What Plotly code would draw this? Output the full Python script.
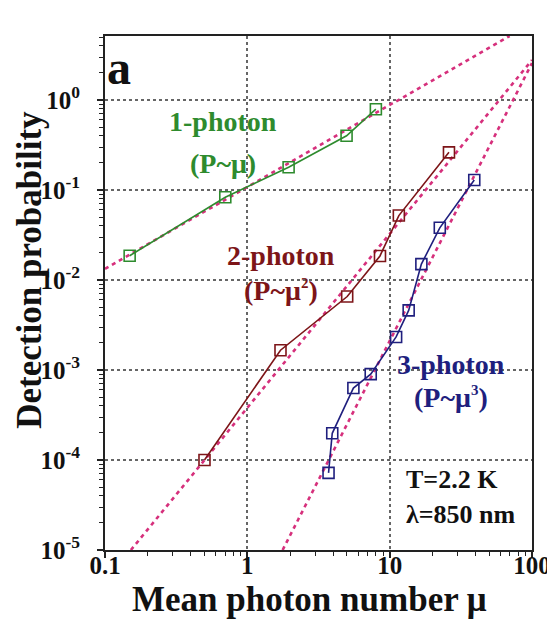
import math
import plotly.graph_objects as go

# ---- data ----
mu_1ph = [0.149, 0.70, 1.95, 4.98, 8.0]
p_1ph = [0.0186, 0.083, 0.179, 0.40, 0.79]

mu_2ph = [0.50, 1.71, 5.03, 8.55, 11.6, 26.1]
p_2ph = [1.0e-4, 1.66e-3, 6.55e-3, 1.85e-2, 5.2e-2, 0.262]

mu_3ph = [3.72, 3.95, 5.56, 7.36, 11.1, 13.6, 16.7, 22.5, 39.3]
p_3ph = [7.2e-5, 1.98e-4, 6.3e-4, 9.0e-4, 2.33e-3, 4.6e-3, 1.5e-2, 3.8e-2, 0.129]

# power-law fit lines (end points read at the frame)
fit1_mu = [0.1, 69.6]
fit1_p = [0.0133, 5.14]
fit2_mu = [0.152, 100]
fit2_p = [1e-5, 2.78]
fit3_mu = [1.77, 100]
fit3_p = [1e-5, 2.57]

x_tickvals = [0.1, 1, 10, 100]
x_ticktext = ["0.1", "1", "10", "100"]
y_tickvals = [1e-5, 1e-4, 1e-3, 1e-2, 1e-1, 1e0]
y_ticktext = ["10<sup>-5</sup>", "10<sup>-4</sup>", "10<sup>-3</sup>",
              "10<sup>-2</sup>", "10<sup>-1</sup>", "10<sup>0</sup>"]

GREEN = "#2e8b2e"
RED = "#7d1518"
NAVY = "#1f1f7e"
FIT = "#d6307c"
INK = "#111111"
FONT = "Liberation Serif"

fig = go.Figure()

for fx, fy in [(fit1_mu, fit1_p), (fit2_mu, fit2_p), (fit3_mu, fit3_p)]:
    fig.add_trace(go.Scatter(x=fx, y=fy, mode="lines",
                             line=dict(color=FIT, width=2.6, dash="4px,4px"),
                             showlegend=False, hoverinfo="skip"))

for mx, py, col in [(mu_1ph, p_1ph, GREEN), (mu_2ph, p_2ph, RED), (mu_3ph, p_3ph, NAVY)]:
    fig.add_trace(go.Scatter(x=mx, y=py, mode="lines+markers",
                             line=dict(color=col, width=1.6),
                             marker=dict(symbol="square-open", size=11,
                                         color=col, line=dict(width=1.6, color=col)),
                             showlegend=False))

axis_common = dict(
    type="log",
    showline=True, linecolor="#222", linewidth=2, mirror=True,
    showgrid=True, gridcolor="#666", gridwidth=1.5, griddash="dot",
    ticks="outside", ticklen=6, tickwidth=1.5, tickcolor="#222",
    zeroline=False,
    tickfont=dict(family=FONT, size=25, color=INK, weight="bold"),
    minor=dict(ticks="outside", ticklen=4, tickwidth=1, tickcolor="#222",
               dtick="D1", showgrid=False),
)

fig.update_xaxes(**axis_common, range=[-1, 2], tickmode="array",
                 tickvals=x_tickvals, ticktext=x_ticktext, ticklabelstandoff=-14)
fig.update_yaxes(**axis_common, range=[-5, 0.711], tickmode="array",
                 tickvals=y_tickvals, ticktext=y_ticktext, ticklabelstandoff=12)


def ann(text, x, y, color, size, xanchor="center"):
    fig.add_annotation(text=text, x=math.log10(x), y=math.log10(y), xref="x", yref="y",
                       showarrow=False, xanchor=xanchor, yanchor="middle",
                       font=dict(family=FONT, size=size, color=color, weight="bold"))


def sup(s):
    return '<sup><span style="font-size:15px">' + s + '</span></sup>'


# axis titles
fig.add_annotation(text="Mean photon number μ", x=0.479, y=-0.097, xref="paper", yref="paper",
                   showarrow=False, xanchor="center", yanchor="middle",
                   font=dict(family=FONT, size=35, color=INK, weight="bold"))
fig.add_annotation(text="Detection probability", x=-0.176, y=0.545, xref="paper", yref="paper",
                   showarrow=False, xanchor="center", yanchor="middle", textangle=-90,
                   font=dict(family=FONT, size=35, color=INK, weight="bold"))

# panel letter
fig.add_annotation(text="a", x=0.0, y=0.938, xref="paper", yref="paper",
                   showarrow=False, xanchor="left", yanchor="middle",
                   font=dict(family=FONT, size=48, color=INK, weight="bold"))

ann("1-photon", 0.68, 0.57, GREEN, 28)
ann("(P~μ)", 0.67, 0.196, GREEN, 28)
ann("2-photon", 1.72, 0.0185, RED, 28)
ann("(P~μ" + sup("2") + ")", 1.72, 0.0077, RED, 28)
ann("3-photon", 27.0, 0.00114, NAVY, 28)
ann("(P~μ" + sup("3") + ")", 27.0, 0.00049, NAVY, 28)
ann("T=2.2 K", 12.6, 6.0e-5, INK, 26, xanchor="left")
ann("λ=850 nm", 12.6, 2.46e-5, INK, 26, xanchor="left")

# page fragment visible at the right edge
fig.add_annotation(text="F", x=1.03, y=1.04, xref="paper", yref="paper",
                   showarrow=False, xanchor="left", yanchor="middle",
                   font=dict(family=FONT, size=16, color="#1e64d0", weight="bold"))

fig.update_layout(
    width=555, height=627,
    margin=dict(l=97, r=22, t=28, b=85),
    paper_bgcolor="white", plot_bgcolor="white",
    showlegend=False,
)

fig.write_html("out.html")
